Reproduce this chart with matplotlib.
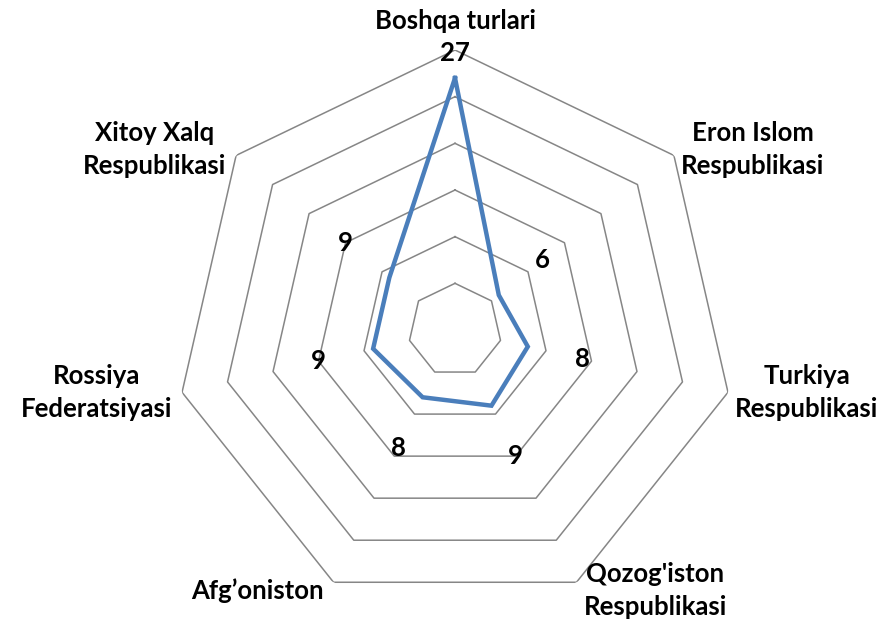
import numpy as np
import matplotlib
matplotlib.use("Agg")
import matplotlib.pyplot as plt

# categories (clockwise from top) and values
categories = ["Boshqa turlari", "Eron Islom\nRespublikasi", "Turkiya\nRespublikasi",
              "Qozog'iston\nRespublikasi", "Afg\u2019oniston", "Rossiya\nFederatsiyasi",
              "Xitoy Xalq\nRespublikasi"]
values = [27, 6, 8, 9, 8, 9, 9]
rings = [5, 10, 15, 20, 25, 30]

plt.rcParams['font.family'] = ['Lato', 'DejaVu Sans']

fig = plt.figure(figsize=(8.88, 6.22), dpi=100)
ax = fig.add_axes([0.1971, 0.0193, 0.6306, 0.9003], projection='polar')
ax.set_theta_offset(np.pi / 2)
ax.set_theta_direction(-1)
ax.set_ylim(0, 30)
ax.axis('off')

n = len(categories)
theta = np.arange(n) * 2 * np.pi / n
theta_c = np.append(theta, theta[0])

# heptagon grid
for r in rings:
    ax.plot(theta_c, [r] * (n + 1), color='#868686', lw=1.1, zorder=1)

vals_c = np.append(values, values[0])
ax.plot(theta_c, vals_c, color='#4A7EBB', lw=3.2, zorder=3, solid_joinstyle='miter')

fs = 18.5

# data labels
for t, v in zip(theta, values):
    r = v + 6 if v < 20 else v + 2.7
    ax.text(t, r, str(v), ha='center', va='center', fontsize=fs, fontweight='bold', zorder=4)

# category labels
for t, lab in zip(theta, categories):
    s = np.sin(t)
    c = np.cos(t)
    if s > 0.1:
        ha, dx = 'left', 5
    elif s < -0.1:
        ha, dx = 'right', -7
    else:
        ha, dx = 'center', 0
    if c > 0.95:
        ax.annotate(lab, xy=(t, 30), xytext=(0, 12), textcoords='offset points',
                    ha='center', va='bottom', fontsize=fs, fontweight='bold')
    else:
        if c > 0:
            dy = 4
        elif c > -0.5:
            dy = 0
        else:
            dy = -6
        ax.annotate(lab, xy=(t, 30), xytext=(dx, dy), textcoords='offset points',
                    ha=ha, va='center', multialignment='center', fontsize=fs,
                    fontweight='bold', linespacing=1.45)

fig.savefig("out.png", dpi=100)
